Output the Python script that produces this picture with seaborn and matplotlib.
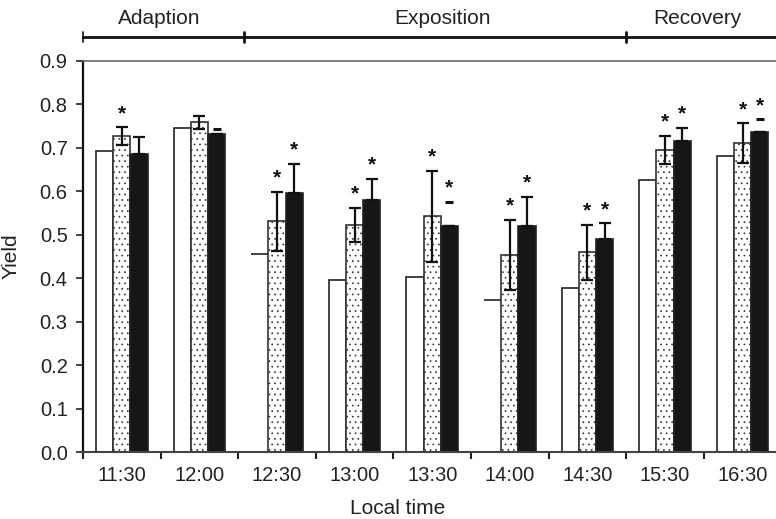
import numpy as np
import pandas as pd
import matplotlib
matplotlib.use("Agg")
import matplotlib.pyplot as plt
import seaborn as sns

# Local time of each measurement
times = ["11:30", "12:00", "12:30", "13:00", "13:30", "14:00", "14:30", "15:30", "16:30"]
series = ["plain", "dotted", "solid"]

# Mean yield per series
plain_yield = [0.692, 0.745, 0.455, 0.395, 0.404, 0.351, 0.377, 0.625, 0.682]
dotted_yield = [0.727, 0.758, 0.531, 0.523, 0.542, 0.454, 0.460, 0.695, 0.710]
solid_yield = [0.686, 0.731, 0.596, 0.581, 0.521, 0.519, 0.490, 0.715, 0.737]

# Error bars (dotted: +/-, solid: upward only)
dotted_err = [0.020, 0.015, 0.068, 0.039, 0.105, 0.080, 0.063, 0.033, 0.046]
solid_err = [0.038, 0.013, 0.067, 0.047, 0.054, 0.068, 0.036, 0.030, 0.028]
solid_cap_only = [False, True, False, False, True, False, False, False, True]

# Significance marks
dotted_sig = [True, False, True, True, True, True, True, True, True]
solid_sig = [False, False, True, True, True, True, True, True, True]

# Phases of the experiment
phases = ["Adaption", "Exposition", "Recovery"]
phase_bounds = [-0.5, 1.58, 6.5]
phase_label_x = [0.48, 4.13, 7.42]

# bars drawn with only a top line
plain_open = [2, 5]

df = pd.DataFrame({
    "time": np.repeat(times, 3),
    "series": series * len(times),
    "yield": np.ravel(np.column_stack([plain_yield, dotted_yield, solid_yield])),
})

sns.set_style("white")
plt.rcParams["font.family"] = ["Liberation Sans", "DejaVu Sans"]
plt.rcParams["hatch.linewidth"] = 0.5

fig = plt.figure(figsize=(7.76, 5.19), dpi=100)
ax = fig.add_axes([83 / 776, (519 - 452.3) / 519, (776 - 83) / 776, (452.3 - 60.7) / 519])

palette = {"plain": "white", "dotted": "white", "solid": "#161616"}
sns.barplot(data=df, x="time", y="yield", hue="series", order=times,
            hue_order=series, palette=palette, width=0.665, errorbar=None,
            edgecolor="#222222", linewidth=1.2, legend=False, ax=ax, zorder=2)

plain_bars, dotted_bars, solid_bars = ax.containers[0], ax.containers[1], ax.containers[2]
for p in dotted_bars:
    p.set_hatch("...")
    p.set_edgecolor("#333333")

for i in plain_open:
    p = plain_bars[i]
    p.set_edgecolor("none")
    ax.hlines(p.get_height(), p.get_x(), p.get_x() + p.get_width(),
              color="#222222", lw=1.2, zorder=3)

def centers(bars):
    return np.array([p.get_x() + p.get_width() / 2 for p in bars])

dx = centers(dotted_bars)
sx = centers(solid_bars)

ax.errorbar(dx, dotted_yield, yerr=dotted_err, fmt="none", ecolor="#111111",
            elinewidth=1.6, capsize=4, capthick=1.6, zorder=4)

stem = np.where(solid_cap_only, 0.0, solid_err)
ax.errorbar(sx, solid_yield, yerr=[np.zeros(len(times)), stem], fmt="none",
            ecolor="#111111", elinewidth=1.6, capsize=4, capthick=1.6, zorder=4)
cap_idx = [i for i, c in enumerate(solid_cap_only) if c]
ax.plot(sx[cap_idx], np.array(solid_yield)[cap_idx] + np.array(solid_err)[cap_idx],
        ls="none", marker="_", ms=6, mew=2.2, color="#111111", zorder=4)

for x, y, e, s in zip(dx, dotted_yield, dotted_err, dotted_sig):
    if s:
        ax.annotate("*", (x, y + e), xytext=(0, 6), textcoords="offset points",
                    ha="center", va="baseline", fontsize=15, fontweight="bold",
                    color="#111111")
for x, y, e, s in zip(sx, solid_yield, solid_err, solid_sig):
    if s:
        ax.annotate("*", (x, y + e), xytext=(0, 6), textcoords="offset points",
                    ha="center", va="baseline", fontsize=15, fontweight="bold",
                    color="#111111")

# axes styling
ax.set_xlim(-0.5, 8.43)
ax.set_ylim(0, 0.9)
ax.set_yticks(np.arange(0, 0.91, 0.1))
ax.set_yticklabels([f"{v:.1f}" for v in np.arange(0, 0.91, 0.1)])
ax.set_xticks(range(len(times)))
ax.set_xticklabels(times)
ax.set_xticks(np.arange(-0.5, 8.5, 1.0), minor=True)
ax.tick_params(axis="x", which="major", length=0, pad=10, labelsize=14.5,
               labelcolor="#222222")
ax.tick_params(axis="x", which="minor", length=5, width=1.5, direction="out",
               color="#222222", bottom=True)
ax.tick_params(axis="y", length=5, width=1.2, direction="out", color="#222222",
               pad=6, labelsize=14.5, left=True, labelcolor="#222222")

for side in ["left", "bottom", "top", "right"]:
    ax.spines[side].set_visible(side != "right")
ax.spines["left"].set_color("#111111")
ax.spines["left"].set_linewidth(1.6)
ax.spines["bottom"].set_color("#444444")
ax.spines["bottom"].set_linewidth(1.5)
ax.spines["top"].set_color("#666666")
ax.spines["top"].set_linewidth(1.2)

ax.set_xlabel("Local time", fontsize=15, color="#222222")
ax.xaxis.set_label_coords((398 - 83) / 693, -0.12)
ax.set_ylabel("Yield", fontsize=15, color="#222222")
ax.yaxis.set_label_coords(-(83 - 21) / 693, 0.5)

# phase bracket above the plot
yb = 0.954
ax.plot([phase_bounds[0], 8.43], [yb, yb], color="#111111", lw=2, clip_on=False)
for xb in phase_bounds:
    ax.plot([xb, xb], [yb - 0.011, yb + 0.011], color="#111111",
            lw=1.2 if xb == phase_bounds[0] else 2, clip_on=False)
for name, xl in zip(phases, phase_label_x):
    ax.text(xl, 0.998, name, ha="center", va="center", fontsize=15, color="#222222",
            clip_on=False)

fig.savefig("out.png", dpi=100)
